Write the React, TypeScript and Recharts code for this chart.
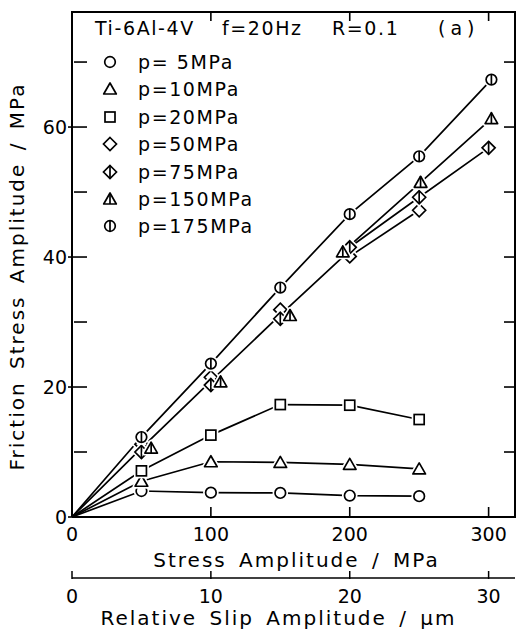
import { ComposedChart, Label, Line, XAxis, YAxis } from 'recharts';

const FONT = '"DejaVu Sans", sans-serif';

// stress amplitude (MPa) -> friction stress amplitude (MPa), per contact pressure
const stressP5 = [0, 50, 100, 150, 200, 250];
const frictionP5 = [0, 4.0, 3.75, 3.7, 3.3, 3.2];
const stressP10 = [0, 50, 100, 150, 200, 250];
const frictionP10 = [0, 5.5, 8.5, 8.4, 8.1, 7.4];
const stressP20 = [0, 50, 100, 150, 200, 250];
const frictionP20 = [0, 7.1, 12.6, 17.3, 17.2, 15.0];
const stressP50 = [50, 100, 150, 200, 250];
const frictionP50 = [11.2, 21.5, 31.9, 40.1, 47.2];
const stressP75 = [50, 100, 150, 200, 250, 300];
const frictionP75 = [10.0, 20.3, 30.5, 41.5, 49.2, 56.8];
const stressP150 = [57, 107, 157, 195, 251, 302];
const frictionP150 = [10.6, 20.8, 31.0, 40.8, 51.5, 61.3];
const stressP175 = [0, 50, 100, 150, 200, 250, 302];
const frictionP175 = [0, 12.3, 23.6, 35.3, 46.6, 55.5, 67.3];
// single line drawn through the p=50/75/150 group up to 200 MPa
const stressGroup = [0, 50, 100, 150, 200];
const frictionGroup = [0, 10.6, 20.9, 31.1, 41.0];

const stressTicks = [0, 100, 200, 300];
const slipTicks = [0, 10, 20, 30];
const frictionTicks = [0, 10, 20, 30, 40, 50, 60, 70];

const STRESS_MAX = 319;
const FRICTION_MAX = 77.7;
// plot box: 72 px y axis on the left, 5 px right margin, 12 px top margin, 61 + 59 px x axes
const PLOT_L = 72;
const PLOT_T = 12;
const PLOT_W = 443;
const PLOT_H = 505;

const pts = (xs: number[], ys: number[]) => xs.map((x, i) => ({ x, y: ys[i] }));

type Kind = 'circle' | 'triangle' | 'square' | 'diamond' | 'diamondBar' | 'triangleBar' | 'circleBar';

// lineFrom: index of the point where this series' own line starts
const SERIES: { name: string; kind: Kind; data: { x: number; y: number }[]; lineFrom: number }[] = [
  { name: 'p= 5MPa', kind: 'circle', data: pts(stressP5, frictionP5), lineFrom: 0 },
  { name: 'p=10MPa', kind: 'triangle', data: pts(stressP10, frictionP10), lineFrom: 0 },
  { name: 'p=20MPa', kind: 'square', data: pts(stressP20, frictionP20), lineFrom: 0 },
  { name: 'p=50MPa', kind: 'diamond', data: pts(stressP50, frictionP50), lineFrom: 3 },
  { name: 'p=75MPa', kind: 'diamondBar', data: pts(stressP75, frictionP75), lineFrom: 3 },
  { name: 'p=150MPa', kind: 'triangleBar', data: pts(stressP150, frictionP150), lineFrom: 3 },
  { name: 'p=175MPa', kind: 'circleBar', data: pts(stressP175, frictionP175), lineFrom: 0 },
];

const Marker = ({ kind, cx, cy, halo = true }: { kind: Kind; cx: number; cy: number; halo?: boolean }) => {
  const draw = (stroke: string, sw: number) => {
    switch (kind) {
      case 'circle':
      case 'circleBar':
        return (
          <>
            <circle cx={cx} cy={cy} r={5.3} fill="#fff" stroke={stroke} strokeWidth={sw} />
            {kind === 'circleBar' && (
              <line x1={cx} y1={cy - 5.3} x2={cx} y2={cy + 5.3} stroke={stroke} strokeWidth={sw} />
            )}
          </>
        );
      case 'triangle':
      case 'triangleBar':
        return (
          <>
            <polygon
              points={`${cx - 6.3},${cy + 5} ${cx + 6.3},${cy + 5} ${cx},${cy - 6}`}
              fill="#fff"
              stroke={stroke}
              strokeWidth={sw}
              strokeLinejoin="round"
            />
            {kind === 'triangleBar' && (
              <line x1={cx} y1={cy - 6} x2={cx} y2={cy + 5} stroke={stroke} strokeWidth={sw} />
            )}
          </>
        );
      case 'square':
        return <rect x={cx - 5} y={cy - 5} width={10} height={10} fill="#fff" stroke={stroke} strokeWidth={sw} />;
      default:
        return (
          <>
            <polygon
              points={`${cx},${cy - 6.5} ${cx + 6.5},${cy} ${cx},${cy + 6.5} ${cx - 6.5},${cy}`}
              fill="#fff"
              stroke={stroke}
              strokeWidth={sw}
            />
            {kind === 'diamondBar' && (
              <line x1={cx} y1={cy - 6.5} x2={cx} y2={cy + 6.5} stroke={stroke} strokeWidth={sw} />
            )}
          </>
        );
    }
  };
  return (
    <g>
      {halo && draw('#fff', 5)}
      {draw('#000', 1.7)}
    </g>
  );
};

// left ticks point into the plot
const LeftTick = ({ x, y, payload }: any) => {
  const v = Number(payload.value);
  const major = v % 20 === 0;
  return (
    <g>
      <line x1={major ? x - 4 : x + 2} y1={y} x2={x + 15} y2={y} stroke="#000" strokeWidth={1.6} />
      {major && (
        <text x={x - 5} y={y + 7} textAnchor="end" fontFamily={FONT} fontSize={19} fill="#000">
          {v}
        </text>
      )}
    </g>
  );
};

// bottom ticks point up
const StressTick = ({ x, y, payload }: any) => {
  const v = Number(payload.value);
  return (
    <g>
      {v > 0 && <line x1={x} y1={y} x2={x} y2={y - 10} stroke="#000" strokeWidth={1.6} />}
      <text x={x} y={y + 24} textAnchor="middle" fontFamily={FONT} fontSize={19} fill="#000">
        {v}
      </text>
    </g>
  );
};

const SlipTick = ({ x, y, payload }: any) => (
  <g>
    <line x1={x} y1={y + 1} x2={x} y2={y - 7} stroke="#000" strokeWidth={1.5} />
    <text x={x} y={y + 25} textAnchor="middle" fontFamily={FONT} fontSize={19} fill="#000">
      {payload.value}
    </text>
  </g>
);

const axisText = { fontFamily: FONT, fontSize: 20, letterSpacing: 2, wordSpacing: 4, fill: '#000' };

// top and right edges of the frame with their inward ticks
const FrameEdges = () => {
  const right = PLOT_L + PLOT_W;
  const bottom = PLOT_T + PLOT_H;
  return (
    <svg
      width={520}
      height={637}
      style={{ position: 'absolute', left: 0, top: 0, pointerEvents: 'none' }}
    >
      <line x1={PLOT_L - 1} y1={PLOT_T} x2={right + 1} y2={PLOT_T} stroke="#000" strokeWidth={2} />
      <line x1={right} y1={PLOT_T} x2={right} y2={bottom + 1} stroke="#000" strokeWidth={2} />
      {stressTicks
        .filter((v) => v > 0)
        .map((v) => {
          const x = PLOT_L + (v / STRESS_MAX) * PLOT_W;
          return <line key={`t${v}`} x1={x} y1={PLOT_T} x2={x} y2={PLOT_T + 9} stroke="#000" strokeWidth={1.6} />;
        })}
      {frictionTicks
        .filter((v) => v > 0)
        .map((v) => {
          const y = bottom - (v / FRICTION_MAX) * PLOT_H;
          return <line key={`r${v}`} x1={right} y1={y} x2={right - 11} y2={y} stroke="#000" strokeWidth={1.6} />;
        })}
    </svg>
  );
};

// legend and test conditions, laid over the upper-left of the plot
const ChartLegend = () => (
  <div
    style={{
      position: 'absolute',
      left: 0,
      top: 0,
      width: 520,
      height: 240,
      fontFamily: FONT,
      fontSize: 19,
      lineHeight: '22px',
      letterSpacing: 1.6,
      color: '#000',
      pointerEvents: 'none',
    }}
  >
    <span style={{ position: 'absolute', left: 95, top: 17 }}>Ti-6Al-4V</span>
    <span style={{ position: 'absolute', left: 222, top: 17 }}>f=20Hz</span>
    <span style={{ position: 'absolute', left: 332, top: 17 }}>R=0.1</span>
    <span style={{ position: 'absolute', left: 438, top: 17, letterSpacing: 5 }}>(a)</span>
    {SERIES.map((s, i) => {
      const cy = 62 + i * 27.4;
      return (
        <div key={s.name}>
          <svg width={20} height={20} style={{ position: 'absolute', left: 100, top: cy - 10 }}>
            <Marker kind={s.kind} cx={10} cy={10} halo={false} />
          </svg>
          <span style={{ position: 'absolute', left: 138, top: cy - 11, whiteSpace: 'pre' }}>{s.name}</span>
        </div>
      );
    })}
  </div>
);

export default function App() {
  return (
    <div style={{ position: 'absolute', left: 0, top: 0, width: 520, height: 637, background: '#fff' }}>
      <ComposedChart width={520} height={637} margin={{ top: PLOT_T, right: 5, bottom: 0, left: 0 }}>
        <XAxis
          xAxisId="b"
          type="number"
          dataKey="x"
          domain={[0, STRESS_MAX / 10]}
          ticks={slipTicks}
          interval={0}
          height={59}
          tickSize={0}
          tickMargin={0}
          tickLine={false}
          tick={SlipTick}
          axisLine={{ stroke: '#000', strokeWidth: 1.6 }}
        >
          <Label
            content={({ viewBox }: any) => (
              <text x={viewBox.x + viewBox.width / 2 - 15} y={viewBox.y + 47} textAnchor="middle" style={axisText}>
                Relative Slip Amplitude / μm
              </text>
            )}
          />
        </XAxis>
        <XAxis
          xAxisId="a"
          type="number"
          dataKey="x"
          domain={[0, STRESS_MAX]}
          ticks={stressTicks}
          interval={0}
          height={61}
          tickSize={0}
          tickMargin={0}
          tickLine={false}
          tick={StressTick}
          axisLine={{ stroke: '#000', strokeWidth: 2 }}
        >
          <Label
            content={({ viewBox }: any) => (
              <text x={viewBox.x + viewBox.width / 2 + 3} y={viewBox.y + 50} textAnchor="middle" style={axisText}>
                Stress Amplitude / MPa
              </text>
            )}
          />
        </XAxis>
        <YAxis
          yAxisId="friction"
          type="number"
          dataKey="y"
          domain={[0, FRICTION_MAX]}
          ticks={frictionTicks}
          interval={0}
          width={PLOT_L}
          tickSize={0}
          tickMargin={0}
          tickLine={false}
          tick={LeftTick}
          axisLine={{ stroke: '#000', strokeWidth: 2 }}
        >
          <Label
            content={({ viewBox }: any) => {
              const cx = 17;
              const cy = viewBox.y + viewBox.height / 2 + 12;
              return (
                <text
                  x={cx}
                  y={cy}
                  transform={`rotate(-90 ${cx} ${cy})`}
                  textAnchor="middle"
                  dominantBaseline="central"
                  style={axisText}
                >
                  Friction Stress Amplitude / MPa
                </text>
              );
            }}
          />
        </YAxis>

        {/* invisible series so the slip axis gets drawn */}
        <Line
          xAxisId="b"
          yAxisId="friction"
          data={slipTicks.map((x) => ({ x, y: 0 }))}
          dataKey="y"
          stroke="none"
          dot={false}
          activeDot={false}
          isAnimationActive={false}
        />

        <Line
          xAxisId="a"
          yAxisId="friction"
          data={pts(stressGroup, frictionGroup)}
          dataKey="y"
          stroke="#000"
          strokeWidth={1.7}
          dot={false}
          activeDot={false}
          isAnimationActive={false}
        />
        {SERIES.map((s) => (
          <Line
            key={`line-${s.name}`}
            xAxisId="a"
            yAxisId="friction"
            data={s.data.slice(s.lineFrom)}
            dataKey="y"
            stroke="#000"
            strokeWidth={1.7}
            dot={false}
            activeDot={false}
            isAnimationActive={false}
          />
        ))}
        {SERIES.map((s) => (
          <Line
            key={`marks-${s.name}`}
            xAxisId="a"
            yAxisId="friction"
            data={s.data}
            dataKey="y"
            stroke="none"
            activeDot={false}
            isAnimationActive={false}
            dot={(p: any) =>
              p.payload.x === 0 ? (
                <g key={`${s.name}-${p.index}`} />
              ) : (
                <Marker key={`${s.name}-${p.index}`} kind={s.kind} cx={p.cx} cy={p.cy} />
              )
            }
          />
        ))}
      </ComposedChart>
      <FrameEdges />
      <ChartLegend />
    </div>
  );
}
